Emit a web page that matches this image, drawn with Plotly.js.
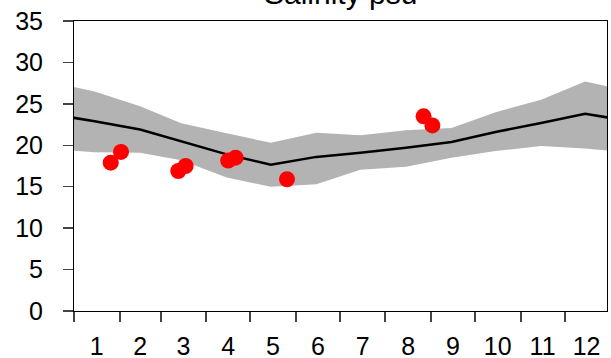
<!DOCTYPE html>
<html>
<head>
<meta charset="utf-8">
<script src="https://cdn.plot.ly/plotly-3.0.1.min.js"></script>
<style>html,body{margin:0;padding:0;background:#fff;}#chart{width:611px;height:358px;}</style>
</head>
<body>
<div id="chart"></div>
<script>
// Climatology (mid-month), wrapped with previous Dec and next Jan
const climDates = ['2000-12-15','2001-01-15','2001-02-15','2001-03-15','2001-04-15','2001-05-15','2001-06-15',
                   '2001-07-15','2001-08-15','2001-09-15','2001-10-15','2001-11-15','2001-12-15','2002-01-15'];
const meanSal  = [23.8, 22.9, 21.9, 20.5, 18.9, 17.65, 18.6, 19.1, 19.7, 20.4, 21.6, 22.7, 23.8, 22.9];
const upperSal = [27.7, 26.5, 24.7, 22.65, 21.45, 20.3, 21.5, 21.2, 21.8, 22.1, 24.0, 25.5, 27.7, 26.5];
const lowerSal = [19.6, 19.15, 19.1, 18.2, 16.1, 15.0, 15.3, 17.05, 17.4, 18.5, 19.3, 19.9, 19.6, 19.15];

// Observations
const obsDates = ['2001-01-26','2001-02-02','2001-03-13','2001-03-18','2001-04-16','2001-04-21','2001-05-26','2001-08-27','2001-09-02'];
const obsSal   = [17.9, 19.2, 16.9, 17.5, 18.15, 18.5, 15.9, 23.5, 22.4];

const titleText = 'Salinity psu';

const traces = [
  {x: climDates, y: lowerSal, type: 'scatter', mode: 'lines', line: {width: 0, color: '#b3b3b3'}, hoverinfo: 'skip', showlegend: false},
  {x: climDates, y: upperSal, type: 'scatter', mode: 'lines', line: {width: 0, color: '#b3b3b3'}, fill: 'tonexty', fillcolor: '#b3b3b3', hoverinfo: 'skip', showlegend: false},
  {x: climDates, y: meanSal, type: 'scatter', mode: 'lines', line: {width: 2.5, color: '#000000'}, showlegend: false},
  {x: obsDates, y: obsSal, type: 'scatter', mode: 'markers', marker: {size: 16, color: '#ff0000'}, showlegend: false}
];

const layout = {
  width: 611, height: 358,
  margin: {l: 74, r: 4, t: 21, b: 47, pad: 0},
  paper_bgcolor: '#ffffff', plot_bgcolor: '#ffffff',
  font: {family: '"Liberation Sans", Arial, sans-serif', size: 24, color: '#000'},
  showlegend: false,
  xaxis: {
    type: 'date',
    range: ['2001-01-01', '2001-12-29 21:00'],
    dtick: 'M1', tick0: '2001-01-01',
    ticklabelmode: 'period',
    tickformat: '%-m',
    ticks: 'outside', ticklen: 10, tickwidth: 2, tickcolor: '#444',
    ticklabelstandoff: 3,
    showgrid: false, zeroline: false,
    showline: true, linecolor: '#000', linewidth: 1, mirror: true,
    tickfont: {size: 25, color: '#000'}
  },
  yaxis: {
    range: [0, 35], dtick: 5, tick0: 0,
    ticks: 'outside', ticklen: 10, tickwidth: 1.5, tickcolor: '#444',
    ticklabelstandoff: 15,
    showgrid: false, zeroline: false,
    showline: true, linecolor: '#000', linewidth: 1, mirror: true,
    tickfont: {size: 25, color: '#000'}
  },
  annotations: [{
    text: titleText, xref: 'paper', yref: 'paper', x: 0.5, y: 1.095,
    xanchor: 'center', yanchor: 'middle', showarrow: false,
    font: {size: 30, color: '#000'}
  }]
};

Plotly.newPlot('chart', traces, layout, {displayModeBar: false, staticPlot: true});
</script>
</body>
</html>
